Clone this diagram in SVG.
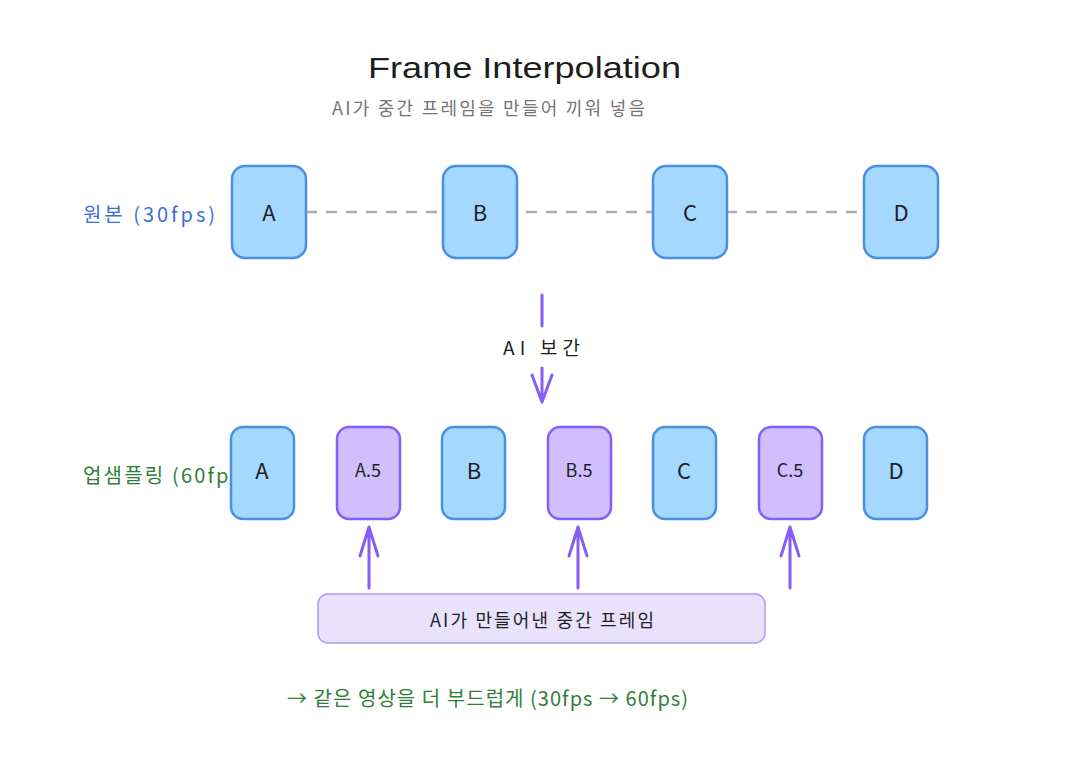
<svg xmlns="http://www.w3.org/2000/svg" width="1072" height="770" viewBox="0 0 1072 770">
<defs>
<style>
text{font-family:"Noto Sans CJK KR","Noto Sans",sans-serif;}
.blue rect{fill:#a5d8ff;stroke:#4a90e2;stroke-width:2.5;}
.purple rect{fill:#d0bfff;stroke:#845ef7;stroke-width:2.5;}
.lbl{font-size:22px;fill:#1e1e1e;text-anchor:middle;dominant-baseline:central;}
.lbls{font-size:18px;fill:#1e1e1e;text-anchor:middle;dominant-baseline:central;}
.arr{stroke:#845ef7;stroke-width:3;fill:none;stroke-linecap:round;stroke-linejoin:round;}
</style>
</defs>
<rect width="1072" height="770" fill="#ffffff"/>
<text x="368" y="67" font-size="30" fill="#1e1e1e" dominant-baseline="central" textLength="313" lengthAdjust="spacingAndGlyphs" style="font-family:'Liberation Sans',sans-serif">Frame Interpolation</text>
<text x="332" y="107" font-size="18" fill="#757575" dominant-baseline="central" textLength="313" lengthAdjust="spacing">AI가 중간 프레임을 만들어 끼워 넣음</text>

<text id="label-orig" x="83" y="213" font-size="20" fill="#3b6fe0" dominant-baseline="central" textLength="132" lengthAdjust="spacing">원본 (30fps)</text>
<text id="label-up" x="83" y="474" font-size="20" fill="#2f7d3a" dominant-baseline="central" textLength="166" lengthAdjust="spacing">업샘플링 (60fps)</text>

<g id="connectors">
<line x1="306" y1="212" x2="864" y2="212" stroke="#adadad" stroke-width="2.5" stroke-dasharray="11 9"/>
<path class="arr" d="M542 295 L542 326"/>
<path class="arr" d="M542 368 L542 402 M532 375 L542 402 L552 375"/>
<path class="arr" d="M369 588 L369 527 M360 556 L369 527 L378 556"/>
<path class="arr" d="M578 588 L578 527 M569 556 L578 527 L587 556"/>
<path class="arr" d="M790 588 L790 527 M781 556 L790 527 L799 556"/>
</g>
<text x="503" y="346" font-size="19" fill="#1e1e1e" dominant-baseline="central" textLength="77" lengthAdjust="spacing">AI 보간</text>

<g id="top-A" class="blue"><rect x="232" y="166" width="74" height="92" rx="13"/><text class="lbl" x="269" y="211">A</text></g>
<g id="top-B" class="blue"><rect x="443" y="166" width="74" height="92" rx="13"/><text class="lbl" x="480" y="211">B</text></g>
<g id="top-C" class="blue"><rect x="653" y="166" width="74" height="92" rx="13"/><text class="lbl" x="690" y="211">C</text></g>
<g id="top-D" class="blue"><rect x="864" y="166" width="74" height="92" rx="13"/><text class="lbl" x="901" y="211">D</text></g>

<g id="bot-A" class="blue"><rect x="231" y="427" width="63" height="92" rx="12"/><text class="lbl" x="262" y="469">A</text></g>
<g id="bot-A5" class="purple"><rect x="337" y="427" width="63" height="92" rx="12"/><text class="lbls" x="368" y="469">A.5</text></g>
<g id="bot-B" class="blue"><rect x="442" y="427" width="63" height="92" rx="12"/><text class="lbl" x="474" y="469">B</text></g>
<g id="bot-B5" class="purple"><rect x="548" y="427" width="63" height="92" rx="12"/><text class="lbls" x="579" y="469">B.5</text></g>
<g id="bot-C" class="blue"><rect x="653" y="427" width="63" height="92" rx="12"/><text class="lbl" x="684" y="469">C</text></g>
<g id="bot-C5" class="purple"><rect x="759" y="427" width="63" height="92" rx="12"/><text class="lbls" x="790" y="469">C.5</text></g>
<g id="bot-D" class="blue"><rect x="864" y="427" width="63" height="92" rx="12"/><text class="lbl" x="896" y="469">D</text></g>

<g id="ai-box"><rect x="318" y="594" width="447" height="49" rx="10" fill="#e9e2fc" stroke="#b197fc" stroke-width="1.5"/><text x="430" y="619" font-size="18" fill="#1e1e1e" dominant-baseline="central" textLength="224" lengthAdjust="spacing">AI가 만들어낸 중간 프레임</text></g>

<text id="footer" x="287" y="697" font-size="20" fill="#2f7d3a" dominant-baseline="central" textLength="401" lengthAdjust="spacing">→ 같은 영상을 더 부드럽게 (30fps → 60fps)</text>
</svg>
